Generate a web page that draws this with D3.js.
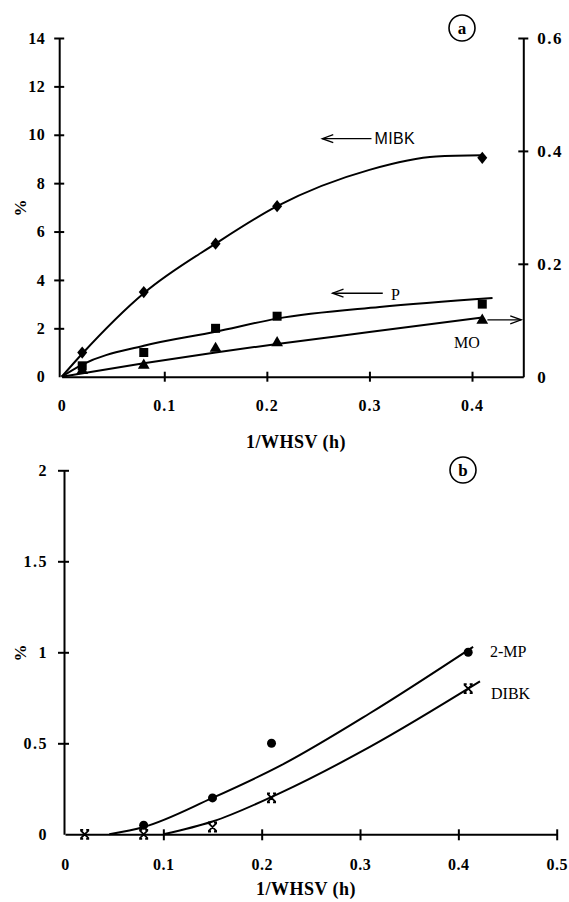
<!DOCTYPE html>
<html>
<head>
<meta charset="utf-8">
<script src="https://cdn.jsdelivr.net/npm/d3@7"></script>
<style>
  body { margin: 0; background: #fff; }
  svg text { font-family: "Liberation Serif", "Times New Roman", serif; }
</style>
</head>
<body>
<svg id="chart" width="569" height="902"></svg>
<script>
// panel a : % vs 1/WHSV
const mibkPts = [[0.02, 1.0], [0.08, 3.5], [0.15, 5.5], [0.21, 7.05], [0.41, 9.05]];
const pPts = [[0.02, 0.45], [0.08, 1.0], [0.15, 2.0], [0.21, 2.5], [0.41, 3.0]];
const moPts = [[0.02, 0.011], [0.08, 0.02], [0.15, 0.05], [0.21, 0.06], [0.41, 0.1]]; // right axis
const mibkFit = [[0, 0], [0.02, 0.95], [0.08, 3.45], [0.15, 5.5], [0.21, 7.05], [0.3, 8.55], [0.365, 9.1], [0.41, 9.15]];
const pFit = [[0, 0], [0.02, 0.5], [0.08, 1.28], [0.15, 1.86], [0.21, 2.4], [0.31, 2.88], [0.42, 3.25]];
const moFit = [[0, 0], [0.08, 0.024], [0.15, 0.043], [0.21, 0.058], [0.3, 0.079], [0.41, 0.105]];
const xTicksA = [0, 0.1, 0.2, 0.3, 0.4];
const yTicksA = [0, 2, 4, 6, 8, 10, 12, 14];
const y2TicksA = [0, 0.2, 0.4, 0.6];

// panel b
const mpPts = [[0.08, 0.05], [0.15, 0.2], [0.21, 0.5], [0.41, 1.0]];
const dibkPts = [[0.02, 0], [0.08, 0], [0.15, 0.04], [0.21, 0.2], [0.41, 0.8]];
const mpFit = [[0.045, 0], [0.08, 0.04], [0.15, 0.2], [0.22, 0.38], [0.31, 0.665], [0.415, 1.03]];
const dibkFit = [[0.1, 0], [0.15, 0.07], [0.218, 0.225], [0.31, 0.48], [0.422, 0.84]];
const xTicksB = [0, 0.1, 0.2, 0.3, 0.4, 0.5];
const yTicksB = [0, 0.5, 1, 1.5, 2];

const svg = d3.select("#chart");

// scales
const xa = d3.scaleLinear().domain([0, 0.45]).range([61.7, 523.3]);
const ya = d3.scaleLinear().domain([0, 14]).range([376.7, 38]);
const ya2 = d3.scaleLinear().domain([0, 0.6]).range([376.7, 38]);
const xb = d3.scaleLinear().domain([0, 0.5]).range([65, 556.7]);
const yb = d3.scaleLinear().domain([0, 2]).range([834.3, 470.3]);

// crossing ticks
function crossAxis(g, orient){
  g.select(".domain").attr("stroke-width", 2);
  g.selectAll(".tick line").attr("stroke-width", 2);
  if(orient == "left") g.selectAll(".tick line").attr("x1", 5);
  if(orient == "right") g.selectAll(".tick line").attr("x1", -5);
  if(orient == "bottom") g.selectAll(".tick line").attr("y1", -5);
  g.selectAll("text").attr("font-weight", "bold").attr("fill", "#000");
  g.selectAll(".tick").filter(d => d == 0).select("line").remove();
}

function fmt(d){ return d3.format("")(d); }

// ---------- panel a ----------
const gxa = svg.append("g").attr("transform", `translate(0,${ya(0)})`)
  .call(d3.axisBottom(xa).tickValues(xTicksA).tickSize(5).tickSizeOuter(0).tickFormat(fmt).tickPadding(18));
crossAxis(gxa, "bottom");
gxa.selectAll("text").attr("font-size", 16).attr("letter-spacing", 1);

const gya = svg.append("g").attr("transform", `translate(${xa(0) - 2.5},0)`)
  .call(d3.axisLeft(ya).tickValues(yTicksA).tickSize(5).tickSizeOuter(0).tickFormat(fmt).tickPadding(9));
crossAxis(gya, "left");
gya.selectAll("text").attr("font-size", 16).attr("letter-spacing", 0.5);

const gya2 = svg.append("g").attr("transform", `translate(${xa(0.45)},0)`)
  .call(d3.axisRight(ya2).tickValues(y2TicksA).tickSize(5).tickSizeOuter(0).tickFormat(fmt).tickPadding(9));
crossAxis(gya2, "right");
gya2.selectAll("text").attr("font-size", 17).attr("letter-spacing", 1.5);

svg.append("text").attr("x", 296).attr("y", 448).attr("text-anchor", "middle")
  .attr("font-size", 18).attr("font-weight", "bold").attr("letter-spacing", 0.5).text("1/WHSV (h)");
svg.append("text").attr("transform", "translate(26,208) rotate(-90)").attr("text-anchor", "middle")
  .attr("font-size", 17).attr("font-weight", "bold").text("%");

const lineA = d3.line().x(d => xa(d[0])).y(d => ya(d[1])).curve(d3.curveMonotoneX);
const lineA2 = d3.line().x(d => xa(d[0])).y(d => ya2(d[1])).curve(d3.curveMonotoneX);

[[mibkFit, lineA], [pFit, lineA], [moFit, lineA2]].forEach(function(s){
  svg.append("path").datum(s[0]).attr("d", s[1])
    .attr("fill", "none").attr("stroke", "#000").attr("stroke-width", 2);
});

svg.append("g").selectAll("path").data(mibkPts).enter().append("path")
  .attr("d", d3.symbol(d3.symbolDiamond, 60))
  .attr("transform", d => `translate(${xa(d[0])},${ya(d[1])}) scale(1.2,0.85)`)
  .attr("fill", "#000");
svg.append("g").selectAll("rect").data(pPts).enter().append("rect")
  .attr("x", d => xa(d[0]) - 4.5).attr("y", d => ya(d[1]) - 4.5)
  .attr("width", 9).attr("height", 9).attr("fill", "#000");
svg.append("g").selectAll("path").data(moPts).enter().append("path")
  .attr("d", d3.symbol(d3.symbolTriangle, 60))
  .attr("transform", d => `translate(${xa(d[0])},${ya2(d[1])})`)
  .attr("fill", "#000");

// annotation arrows (data units)
function arrow(x1, x2, yv, ys){
  const y = ys(yv);
  const dir = x2 > x1 ? 1 : -1;
  svg.append("line").attr("x1", xa(x1)).attr("x2", xa(x2)).attr("y1", y).attr("y2", y)
    .attr("stroke", "#000").attr("stroke-width", 1.3);
  const tx = xa(x2);
  svg.append("path").attr("d", `M${tx - dir * 11},${y - 4}L${tx},${y}L${tx - dir * 11},${y + 4}`)
    .attr("fill", "none").attr("stroke", "#000").attr("stroke-width", 1.3);
}
arrow(0.302, 0.254, 9.84, ya);
arrow(0.313, 0.264, 3.45, ya);
arrow(0.415, 0.448, 2.35, ya);

svg.append("text").attr("x", xa(0.305)).attr("y", ya(9.62))
  .style("font-family", "'Liberation Sans', Arial, sans-serif").attr("font-size", 16)
  .attr("letter-spacing", 0.3).text("MIBK");
svg.append("text").attr("x", xa(0.321)).attr("y", ya(3.18)).attr("font-size", 16).text("P");
svg.append("text").attr("x", xa(0.395)).attr("y", ya(1.19)).attr("text-anchor", "middle")
  .attr("font-size", 16).text("MO");

// circled labels
function circled(cx, cy, t){
  svg.append("circle").attr("cx", cx).attr("cy", cy).attr("r", 13)
    .attr("fill", "none").attr("stroke", "#000").attr("stroke-width", 1.6);
  svg.append("text").attr("x", cx).attr("y", cy + 5.5).attr("text-anchor", "middle")
    .attr("font-size", 17).attr("font-weight", "bold").text(t);
}
circled(462, 28, "a");

// ---------- panel b ----------
const gxb = svg.append("g").attr("transform", `translate(0,${yb(0)})`)
  .call(d3.axisBottom(xb).tickValues(xTicksB).tickSize(6).tickSizeOuter(0).tickFormat(fmt).tickPadding(18));
crossAxis(gxb, "bottom");
gxb.selectAll("text").attr("font-size", 16).attr("letter-spacing", 0.5);

const gyb = svg.append("g").attr("transform", `translate(${xb(0) - 1},0)`)
  .call(d3.axisLeft(yb).tickValues(yTicksB).tickSize(6).tickSizeOuter(0).tickFormat(fmt).tickPadding(10));
crossAxis(gyb, "left");
gyb.selectAll("text").attr("font-size", 16).attr("letter-spacing", 1.5);

svg.append("text").attr("x", 306).attr("y", 895).attr("text-anchor", "middle")
  .attr("font-size", 18).attr("font-weight", "bold").attr("letter-spacing", 0.5).text("1/WHSV (h)");
svg.append("text").attr("transform", "translate(26,653) rotate(-90)").attr("text-anchor", "middle")
  .attr("font-size", 17).attr("font-weight", "bold").text("%");

const lineB = d3.line().x(d => xb(d[0])).y(d => yb(d[1])).curve(d3.curveMonotoneX);
[mpFit, dibkFit].forEach(function(s){
  svg.append("path").datum(s).attr("d", lineB)
    .attr("fill", "none").attr("stroke", "#000").attr("stroke-width", 2);
});

svg.append("g").selectAll("circle").data(mpPts).enter().append("circle")
  .attr("cx", d => xb(d[0])).attr("cy", d => yb(d[1])).attr("r", 4.5).attr("fill", "#000");
svg.append("g").selectAll("path").data(dibkPts).enter().append("path")
  .attr("d", "M-4,-4L4,4M-4,4L4,-4M-4.5,-4.5H-1.5M1.5,-4.5H4.5M-4.5,4.5H-1.5M1.5,4.5H4.5")
  .attr("transform", d => `translate(${xb(d[0])},${yb(d[1])})`)
  .attr("fill", "none").attr("stroke", "#000").attr("stroke-width", 1.8);

svg.append("text").attr("x", 490).attr("y", 657).attr("font-size", 16).text("2-MP");
svg.append("text").attr("x", 491).attr("y", 699).attr("font-size", 16).text("DIBK");

circled(463, 470, "b");
</script>
</body>
</html>
